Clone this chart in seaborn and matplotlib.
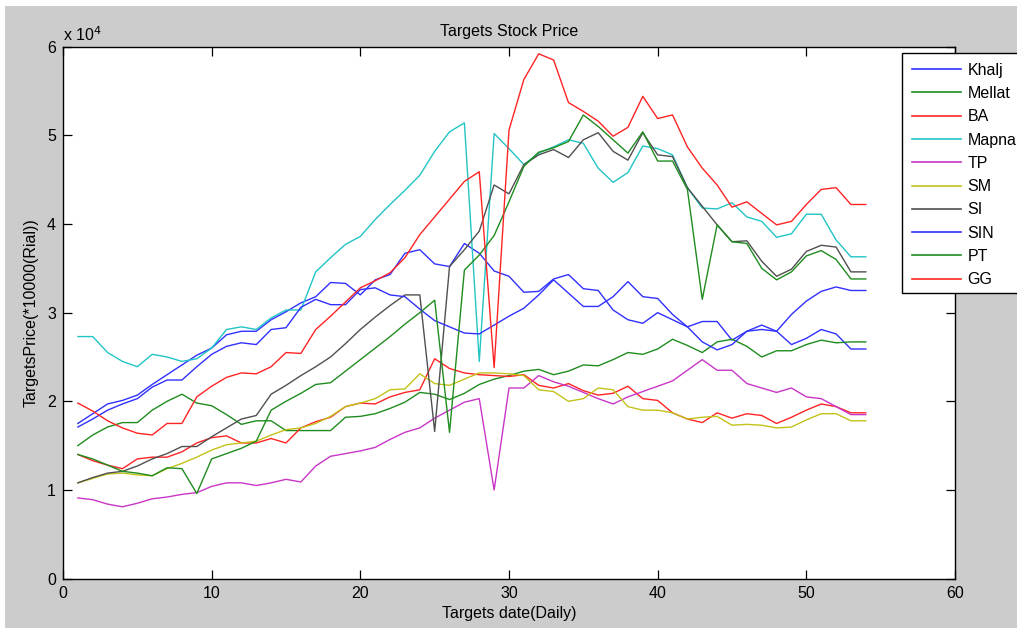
import numpy as np
import pandas as pd
import matplotlib
matplotlib.use("Agg")
import matplotlib.pyplot as plt
from matplotlib.ticker import FuncFormatter
from matplotlib.patches import Rectangle
import seaborn as sns

# ---------------- data (values in Rial) ----------------
days = list(range(1, 55))
names = ["Khalj", "Mellat", "BA", "Mapna", "TP", "SM", "SI", "SIN", "PT", "GG"]

khalj = [1.75, 1.86, 1.97, 2.01, 2.07, 2.19, 2.30, 2.41, 2.52, 2.60,
         2.75, 2.79, 2.79, 2.92, 3.01, 3.11, 3.18, 3.34, 3.33, 3.20,
         3.37, 3.43, 3.67, 3.71, 3.55, 3.52, 3.78, 3.67, 3.47, 3.41,
         3.23, 3.24, 3.38, 3.43, 3.27, 3.25, 3.03, 2.92, 2.88, 3.00,
         2.92, 2.84, 2.90, 2.90, 2.69, 2.79, 2.86, 2.79, 2.64, 2.71,
         2.81, 2.76, 2.59, 2.59]
mellat = [1.50, 1.62, 1.71, 1.76, 1.76, 1.90, 2.00, 2.08, 1.98, 1.95,
          1.85, 1.74, 1.78, 1.78, 1.67, 1.67, 1.67, 1.67, 1.82, 1.83,
          1.86, 1.92, 1.99, 2.10, 2.08, 2.02, 2.09, 2.19, 2.25, 2.29,
          2.34, 2.36, 2.30, 2.34, 2.41, 2.40, 2.47, 2.55, 2.53, 2.59,
          2.70, 2.63, 2.55, 2.67, 2.70, 2.62, 2.50, 2.57, 2.57, 2.64,
          2.69, 2.66, 2.67, 2.67]
ba = [1.40, 1.33, 1.28, 1.24, 1.35, 1.37, 1.37, 1.43, 1.53, 1.59,
      1.61, 1.53, 1.53, 1.58, 1.53, 1.70, 1.77, 1.82, 1.94, 1.98,
      1.97, 2.05, 2.10, 2.13, 2.48, 2.37, 2.32, 2.30, 2.29, 2.28,
      2.30, 2.18, 2.15, 2.20, 2.12, 2.07, 2.09, 2.17, 2.03, 2.01,
      1.87, 1.80, 1.76, 1.87, 1.81, 1.86, 1.84, 1.75, 1.82, 1.90,
      1.97, 1.94, 1.87, 1.87]
mapna = [2.73, 2.73, 2.55, 2.45, 2.39, 2.53, 2.50, 2.45, 2.48, 2.60,
         2.81, 2.84, 2.81, 2.94, 3.03, 3.03, 3.46, 3.62, 3.77, 3.86,
         4.05, 4.22, 4.38, 4.55, 4.82, 5.04, 5.14, 2.45, 5.02, 4.85,
         4.67, 4.80, 4.87, 4.95, 4.91, 4.63, 4.47, 4.58, 4.88, 4.85,
         4.78, 4.41, 4.18, 4.17, 4.24, 4.08, 4.03, 3.85, 3.89, 4.11,
         4.11, 3.82, 3.63, 3.63]
tp = [0.91, 0.89, 0.84, 0.81, 0.85, 0.90, 0.92, 0.95, 0.97, 1.04,
      1.08, 1.08, 1.05, 1.08, 1.12, 1.09, 1.27, 1.38, 1.41, 1.44,
      1.48, 1.57, 1.65, 1.70, 1.81, 1.90, 1.99, 2.03, 1.00, 2.15,
      2.15, 2.29, 2.22, 2.17, 2.10, 2.03, 1.97, 2.05, 2.11, 2.17,
      2.23, 2.35, 2.47, 2.35, 2.35, 2.20, 2.15, 2.10, 2.15, 2.05,
      2.03, 1.94, 1.85, 1.85]
sm = [1.08, 1.13, 1.18, 1.19, 1.17, 1.16, 1.24, 1.30, 1.37, 1.45,
      1.51, 1.53, 1.55, 1.62, 1.68, 1.70, 1.75, 1.83, 1.94, 1.98,
      2.03, 2.13, 2.14, 2.31, 2.20, 2.18, 2.25, 2.32, 2.32, 2.31,
      2.29, 2.13, 2.11, 2.00, 2.03, 2.15, 2.13, 1.94, 1.90, 1.90,
      1.87, 1.80, 1.82, 1.83, 1.73, 1.74, 1.73, 1.70, 1.71, 1.79,
      1.86, 1.86, 1.78, 1.78]
si = [1.08, 1.14, 1.19, 1.21, 1.27, 1.35, 1.41, 1.49, 1.49, 1.60,
      1.70, 1.80, 1.84, 2.08, 2.18, 2.29, 2.39, 2.50, 2.65, 2.81,
      2.95, 3.08, 3.20, 3.20, 1.66, 3.52, 3.71, 3.92, 4.44, 4.34,
      4.67, 4.78, 4.84, 4.75, 4.95, 5.03, 4.82, 4.72, 5.03, 4.78,
      4.76, 4.41, 4.20, 3.99, 3.80, 3.81, 3.58, 3.41, 3.49, 3.69,
      3.76, 3.74, 3.46, 3.46]
sin_ = [1.71, 1.80, 1.90, 1.97, 2.03, 2.16, 2.24, 2.24, 2.39, 2.53,
        2.62, 2.66, 2.64, 2.81, 2.83, 3.06, 3.15, 3.09, 3.09, 3.26,
        3.28, 3.20, 3.18, 3.04, 2.91, 2.84, 2.77, 2.76, 2.86, 2.96,
        3.05, 3.20, 3.37, 3.22, 3.07, 3.07, 3.18, 3.35, 3.18, 3.16,
        2.98, 2.84, 2.67, 2.58, 2.64, 2.79, 2.81, 2.79, 2.98, 3.13,
        3.24, 3.29, 3.25, 3.25]
pt = [1.40, 1.35, 1.28, 1.21, 1.19, 1.16, 1.25, 1.24, 0.96, 1.35,
      1.41, 1.47, 1.55, 1.90, 2.00, 2.09, 2.19, 2.21, 2.34, 2.47,
      2.60, 2.73, 2.87, 3.00, 3.14, 1.65, 3.48, 3.65, 3.87, 4.25,
      4.65, 4.81, 4.86, 4.93, 5.23, 5.10, 4.95, 4.80, 5.04, 4.71,
      4.71, 4.39, 3.15, 3.99, 3.80, 3.78, 3.50, 3.37, 3.46, 3.64,
      3.70, 3.60, 3.38, 3.38]
gg = [1.98, 1.89, 1.78, 1.70, 1.64, 1.62, 1.75, 1.75, 2.05, 2.17,
      2.27, 2.32, 2.31, 2.39, 2.55, 2.54, 2.81, 2.96, 3.12, 3.28,
      3.36, 3.45, 3.62, 3.88, 4.08, 4.28, 4.48, 4.59, 2.38, 5.06,
      5.63, 5.92, 5.85, 5.37, 5.27, 5.16, 4.99, 5.09, 5.44, 5.19,
      5.23, 4.87, 4.63, 4.44, 4.19, 4.25, 4.12, 3.99, 4.03, 4.22,
      4.39, 4.41, 4.22, 4.22]

series = [khalj, mellat, ba, mapna, tp, sm, si, sin_, pt, gg]
y_ticks = [0, 10000, 20000, 30000, 40000, 50000, 60000]
x_ticks = [0, 10, 20, 30, 40, 50, 60]

# ---------------- styling ----------------
colors = {"Khalj": "#3030ff", "Mellat": "#1f8c1f", "BA": "#ff2424",
          "Mapna": "#22c4c4", "TP": "#c836c8", "SM": "#c2c21a",
          "SI": "#505050", "SIN": "#3030ff", "PT": "#1f8c1f", "GG": "#ff2424"}

rows = []
for n, vals in zip(names, series):
    for d, v in zip(days, vals):
        rows.append({"day": d, "price": v * 10000.0, "stock": n})
df = pd.DataFrame(rows)

plt.rcParams["font.family"] = ["Liberation Sans", "DejaVu Sans"]
plt.rcParams["font.size"] = 11.5

W, H = 1017, 628
fig = plt.figure(figsize=(W / 100, H / 100), dpi=100, facecolor="#cccccc")
# thin white strips at the top/left edge of the screenshot
fig.patches.append(Rectangle((0, 1 - 6 / H), 1, 6 / H, transform=fig.transFigure,
                             facecolor="white", edgecolor="none", zorder=-10))
fig.patches.append(Rectangle((0, 0), 5 / W, 1, transform=fig.transFigure,
                             facecolor="white", edgecolor="none", zorder=-10))

ax = fig.add_axes([63 / W, 1 - 578.6 / H, (955 - 63) / W, (578.6 - 46.7) / H])
ax.set_facecolor("white")

sns.lineplot(data=df, x="day", y="price", hue="stock", hue_order=names,
             palette=colors, linewidth=1.0, ax=ax, legend=True,
             estimator=None, sort=False)

ax.set_xlim(0, 60)
ax.set_ylim(0, 60000)
ax.set_xticks(x_ticks)
ax.set_yticks(y_ticks)
ax.yaxis.set_major_formatter(FuncFormatter(lambda v, p: f"{v / 1e4:g}"))
ax.tick_params(direction="in", length=6.5, width=0.9, top=True, right=True,
               labelsize=11.5, pad=5, colors="black")
for s in ax.spines.values():
    s.set_color("black")
    s.set_linewidth(1.0)

ax.set_title("Targets Stock Price", fontsize=11.5, pad=8)
ax.set_xlabel("Targets date(Daily)", fontsize=11.5, labelpad=4)
ax.set_ylabel("TargetsPrice(*10000(Rial))", fontsize=11.5, labelpad=6)
fig.text(63 / W, 1 - 41 / H, r"x 10$^{4}$", fontsize=11.5, ha="left", va="baseline")

# legend box that runs off the right edge of the screenshot
ax.add_patch(Rectangle((902 / W, 1 - 293 / H), 140 / W, 240 / H,
                       transform=fig.transFigure, facecolor="white",
                       edgecolor="black", linewidth=1.0, clip_on=False, zorder=4))

handles, labels = ax.get_legend_handles_labels()
leg = ax.legend(handles, labels, loc="upper left",
                bbox_to_anchor=(902 / W, 1 - 53 / H),
                bbox_transform=fig.transFigure,
                borderaxespad=0, frameon=False, fontsize=11.5, handlelength=3.1,
                handletextpad=0.4, labelspacing=0.52, borderpad=0.6)
leg.set_zorder(5)
for line in leg.get_lines():
    line.set_linewidth(1.2)

fig.savefig("out.png", dpi=100, facecolor=fig.get_facecolor())
